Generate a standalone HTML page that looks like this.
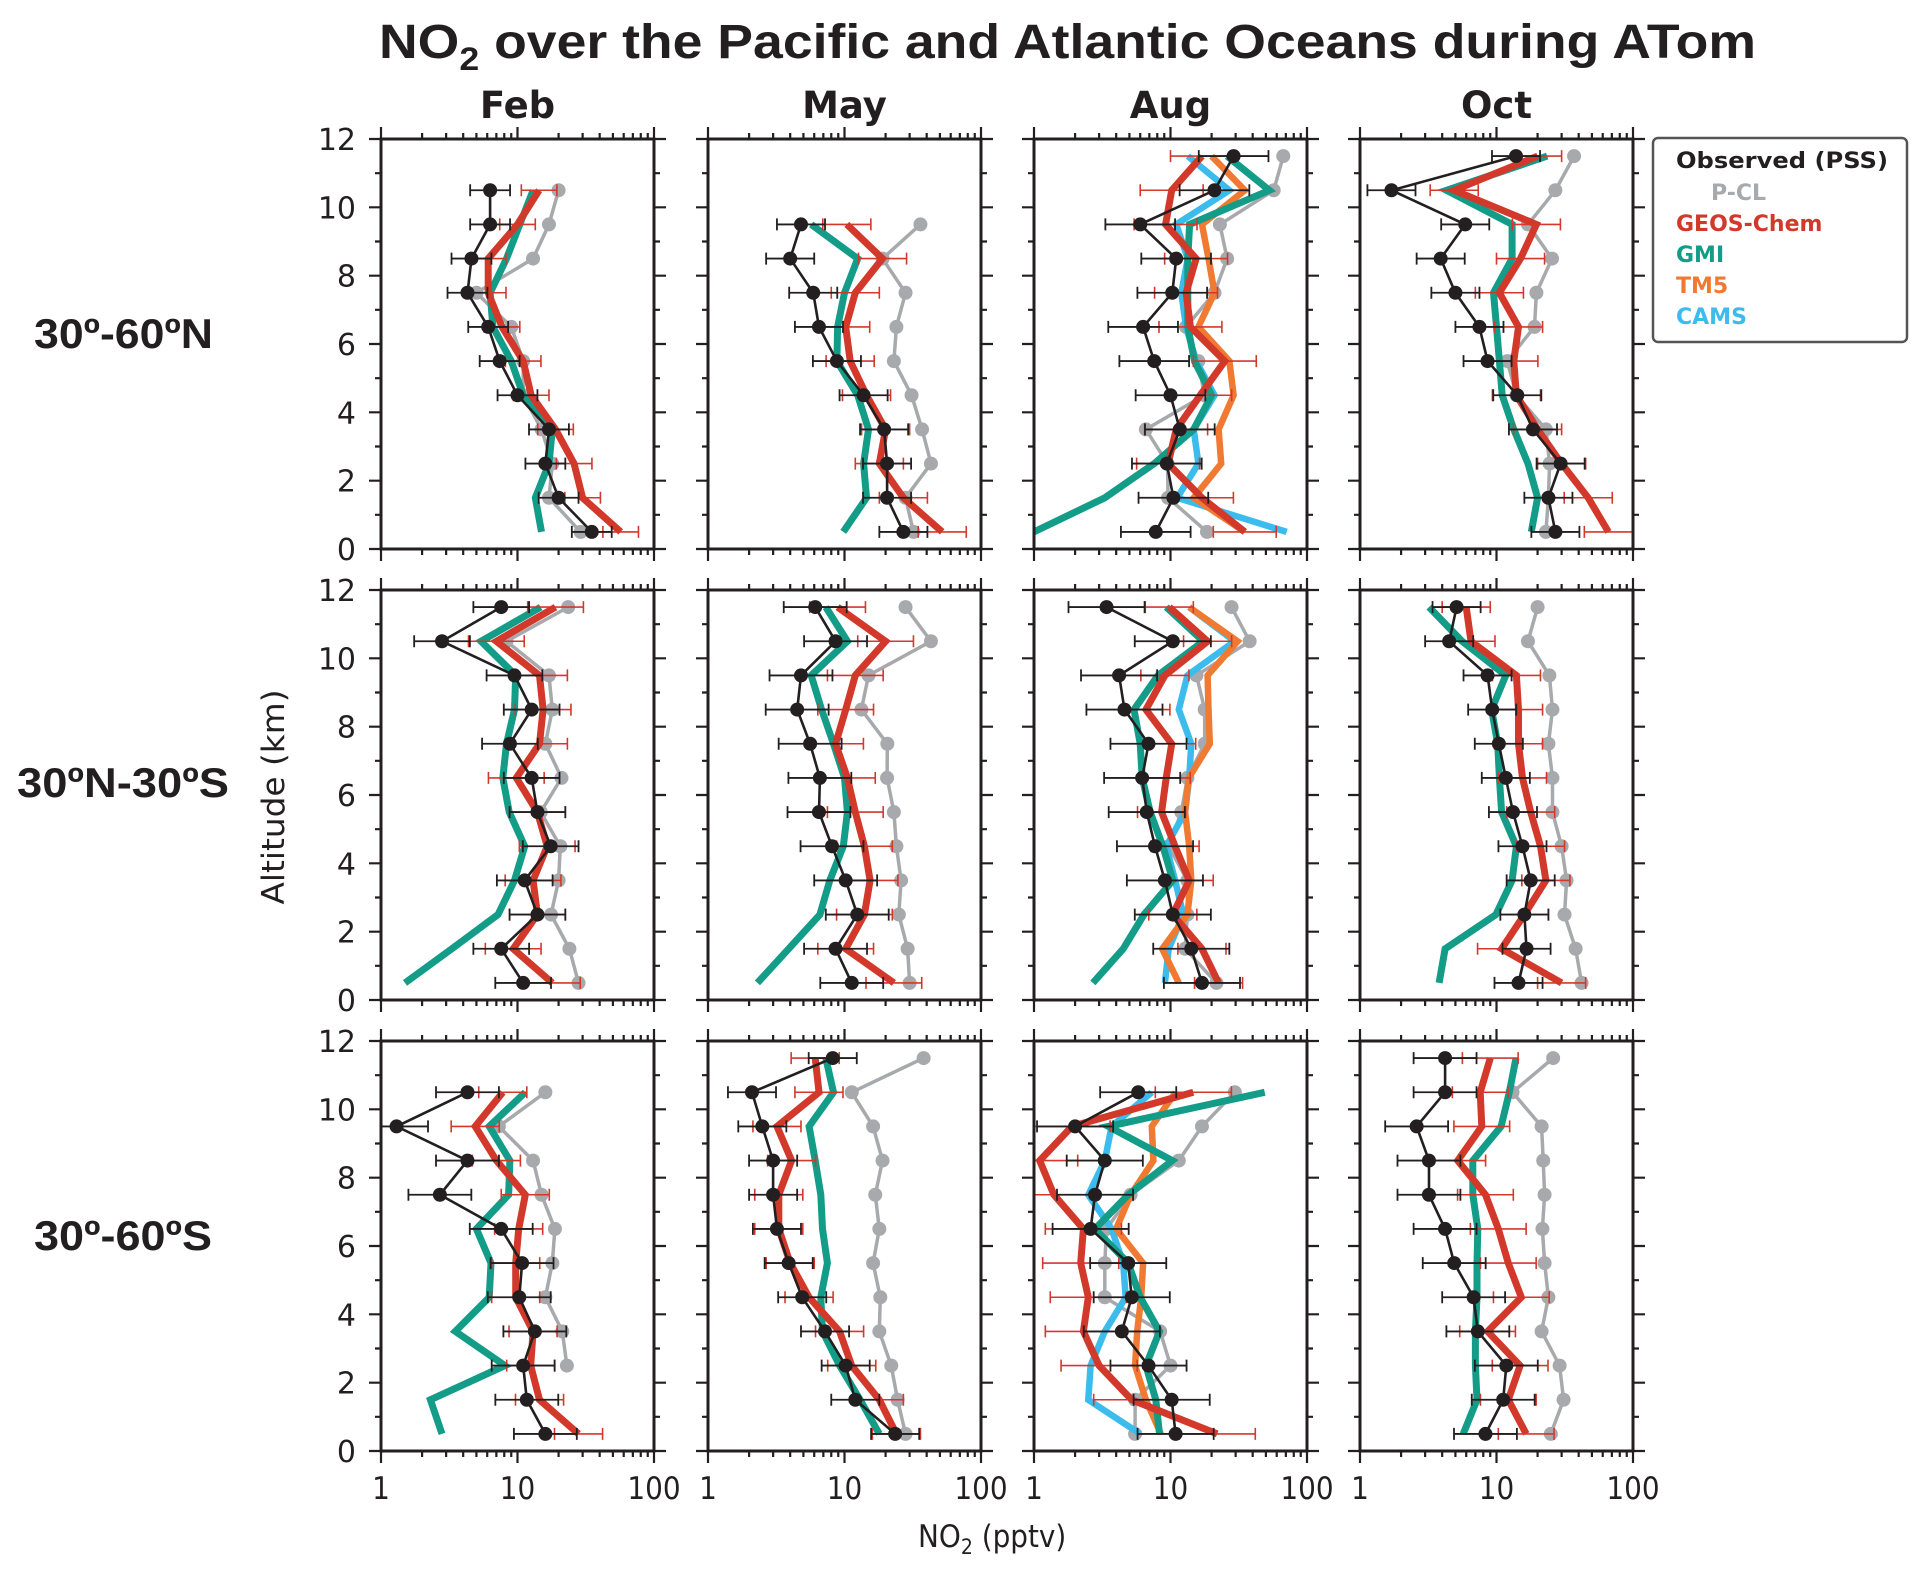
<!DOCTYPE html>
<html><head><meta charset="utf-8"><style>
html,body{margin:0;padding:0;background:#fff;}
svg{display:block;}
text{fill:#231f20;}
.cond{font-family:"DejaVu Sans Condensed","Liberation Sans Narrow","DejaVu Sans",sans-serif;font-stretch:condensed;}
.dv{font-family:"DejaVu Sans",sans-serif;}
</style></head><body>
<svg id="chart" width="1923" height="1570" viewBox="0 0 1923 1570" xmlns="http://www.w3.org/2000/svg">
<text x="379" y="58" font-family="Liberation Sans, sans-serif" font-weight="bold" font-size="48" textLength="1377" lengthAdjust="spacingAndGlyphs">NO<tspan font-size="32" dy="12">2</tspan><tspan dy="-12"> over the Pacific and Atlantic Oceans during ATom</tspan></text>
<text x="34" y="348" font-family="Liberation Sans, sans-serif" font-weight="bold" font-size="42" textLength="179" lengthAdjust="spacingAndGlyphs">30º-60ºN</text>
<text x="17" y="797" font-family="Liberation Sans, sans-serif" font-weight="bold" font-size="42" textLength="212" lengthAdjust="spacingAndGlyphs">30ºN-30ºS</text>
<text x="34" y="1250" font-family="Liberation Sans, sans-serif" font-weight="bold" font-size="42" textLength="178" lengthAdjust="spacingAndGlyphs">30º-60ºS</text>
<text class="cond" x="0" y="0" font-size="31" text-anchor="middle" textLength="215" lengthAdjust="spacingAndGlyphs" transform="translate(284,797) rotate(-90)">Altitude (km)</text>
<text class="cond" x="918" y="1547" font-size="31">NO<tspan font-size="21" dy="7">2</tspan><tspan dy="-7"> (pptv)</tspan></text>
<g>
<rect x="1653" y="138" width="254" height="204" rx="5" fill="#fff" stroke="#555" stroke-width="2.5"/>
<g font-family="DejaVu Sans, sans-serif" font-weight="bold" font-size="22">
<text x="1676" y="168" textLength="212" lengthAdjust="spacingAndGlyphs" style="fill:#231f20">Observed (PSS)</text>
<text x="1711" y="200" style="fill:#a7a9ac">P-CL</text>
<text x="1676" y="231" style="fill:#d2392b">GEOS-Chem</text>
<text x="1676" y="262" style="fill:#139c87">GMI</text>
<text x="1676" y="293" style="fill:#f07a32">TM5</text>
<text x="1676" y="324" style="fill:#3bbcec">CAMS</text>
</g></g>
<g id="panels"></g>
</svg>
<script>
// altitude levels (km), bottom to top
const altitudes=[0.5,1.5,2.5,3.5,4.5,5.5,6.5,7.5,8.5,9.5,10.5,11.5];
const months=["Feb","May","Aug","Oct"];
const regions=["30-60N","30N-30S","30-60S"];
const xTicks=[1,10,100];
const xTickLabels=["1","10","100"];
const yTicks=[0,2,4,6,8,10,12];
const N=null;
// Row 1: 30-60N
const obs_n_feb=[35,20,16,17,10,7.4,6.1,4.3,4.6,6.3,6.3,N];
const pcl_n_feb=[29,17,18,15,11,11,9,5,13,17,20,N];
const gc_n_feb=[57,30,26,19,12.6,11,7.7,6.1,6.1,10,14.4,N];
const gmi_n_feb=[15,13.5,17,18,11,9,6.6,6.3,8.3,10.4,13,N];
const obs_n_may=[27,20.5,20.5,19.5,13.8,8.8,6.5,5.9,4.0,4.8,N,N];
const pcl_n_may=[32,28,43,37,31,23,24,28,19,36,N,N];
const gc_n_may=[52,27,18,20,14.5,11,10.2,12,19,10.4,N,N];
const gmi_n_may=[9.8,14.5,13.8,15,12.5,8.8,8.9,10,12.5,5.7,N,N];
const obs_n_aug=[7.8,10.5,9.4,11.7,10,7.6,6.3,10.3,11,6.0,21,29];
const pcl_n_aug=[18.5,9.6,9.5,6.6,17.7,16,13,21,26,23,57,67];
const gc_n_aug=[35,17,9.6,11,16.5,25,14,13,15.4,9.2,10.2,17];
const gmi_n_aug=[1,3.3,7.6,14.8,20,15,13.4,13.4,13.4,13.8,53,26];
const tm5_n_aug=[35,14.8,23.5,22.5,29,27,16,21,19,17,35,20];
const cams_n_aug=[71,11.2,16,14.8,21,15.4,13,12,13.4,11,27,13.4];
const obs_n_oct=[27,24,29.5,18.5,14.2,8.6,7.5,5.0,3.9,5.9,1.7,13.9];
const pcl_n_oct=[23,24,24.5,23,14,12,19,19.6,25.5,17,27,37];
const gc_n_oct=[66,47,30,20,14,13.4,14.5,10.5,15,19.6,4.9,20];
const gmi_n_oct=[18,20,17,13.4,11,10.5,10,9.5,13,13,4.3,23.5];
// Row 2: 30N-30S
const obs_t_feb=[11,7.6,14,11.3,17.5,14,12.7,8.8,12.7,9.5,2.8,7.6];
const pcl_t_feb=[28,24,17.6,20,20.6,14.8,21,16,18,17,8.3,23.5];
const gc_t_feb=[18,9.3,14,13,16.5,14,9.8,14.5,15.4,14.5,7,19];
const gmi_t_feb=[1.5,3.3,7.2,9.5,11.3,8.7,7.8,8.3,9.5,9.7,5.4,14.8];
const obs_t_may=[11.3,8.6,12.4,10.2,8.1,6.5,6.6,5.6,4.5,4.8,8.6,6.1];
const pcl_t_may=[30,29,25,26,24,23,20.5,20.6,13.3,15,43,28];
const gc_t_may=[23,10.2,14,15.4,14,12,10.5,8.6,10.2,12,20,8.9];
const gmi_t_may=[2.3,3.9,6.6,7.8,9.8,10.5,10,8.3,6.8,5.7,10.5,7.3];
const obs_t_aug=[17,14.2,10.4,9.1,7.7,6.7,6.2,6.9,4.6,4.2,10.4,3.4];
const pcl_t_aug=[21.7,12.8,13.3,13.3,9.7,12,13.3,17.8,17.8,15.5,38,28];
const gc_t_aug=[22.5,17,10.4,13.7,10.8,8.6,9.3,10.2,6.6,9.1,18.7,9.8];
const gmi_t_aug=[2.7,4.5,6.4,10.4,8.8,7.1,6.2,6,5.4,8.1,17.4,9.3];
const tm5_t_aug=[11.5,8.7,13.3,14.2,13.7,12.8,13.6,19.4,19,18.7,31,13.7];
const cams_t_aug=[9.1,9.7,12.4,10.8,9.3,12.8,13.7,14.2,11.5,13.3,29.5,13.7];
const obs_t_oct=[14.5,16.6,16,17.8,15.5,13.2,11.7,10.4,9.3,8.6,4.5,5.1];
const pcl_t_oct=[42,38,31.5,32.6,30,25.7,25.7,24,25.7,24.4,17,20];
const gc_t_oct=[30,10.9,16,23,21,17.8,15.5,14.5,14.5,14,6.5,6.0];
const gmi_t_oct=[3.8,4.2,9.9,13,14,10.9,10.5,10.2,9.2,11.7,5.6,3.2];
// Row 3: 30-60S
const obs_s_feb=[16,11.7,11,13.4,10.3,10.8,7.6,2.7,4.3,1.3,4.3,N];
const pcl_s_feb=[N,N,23,21.3,16,18,18.8,15,13,7.3,16,N];
const gc_s_feb=[28,14.5,12.5,13,9.7,9.7,10.2,11.4,7,4.9,7.8,N];
const gmi_s_feb=[2.8,2.3,8.1,3.5,6.2,6.4,5,8.6,8.8,6.2,11.4,N];
const obs_s_may=[23.5,12,10.2,7.2,4.9,3.9,3.2,3.0,3.0,2.5,2.1,8.2];
const pcl_s_may=[28,24.5,22,18,18.3,16.2,18,16.8,19,16.2,11.3,38];
const gc_s_may=[24,18,11.3,9.2,5.5,4.0,3.3,3.3,4.1,3.2,6.5,6.1];
const gmi_s_may=[18,13,9.2,6.9,6.7,7.5,6.9,6.7,6.1,5.5,8.3,7.3];
const obs_s_aug=[10.9,10.2,6.9,4.4,5.2,4.9,2.6,2.8,3.3,2.0,5.8,N];
const pcl_s_aug=[5.5,5.5,10,8.4,3.3,3.3,3.4,5.1,11.5,17,29.6,N];
const gc_s_aug=[22,5.2,3.0,2.3,2.5,2.2,2.3,1.4,1.1,1.9,14.7,N];
const gmi_s_aug=[8.3,7.8,6.6,8.3,6.0,4.9,2.8,4.9,10.3,3.5,49,N];
const tm5_s_aug=[8.5,6.6,5.5,5.7,6.1,6.3,4.0,5.1,7.5,7.3,10.9,N];
const cams_s_aug=[6.0,2.5,2.6,3.3,4.7,4.5,3.7,2.5,3.3,3.7,7.3,N];
const obs_s_oct=[8.3,11.2,11.8,7.3,6.8,4.9,4.2,3.2,3.2,2.6,4.2,4.2];
const pcl_s_oct=[25,31,29,21.4,24,22.5,21.7,22.5,22,21.4,13.1,26];
const gc_s_oct=[16.5,12.2,14.9,8.6,15.2,12.2,10.3,8.3,5.2,7.8,7.6,9.0];
const gmi_s_oct=[5.7,7.2,7.0,7.0,7.2,7.2,7.3,6.7,6.7,10.8,12.4,13.9];
// error-bar multiplicative half-widths per panel (row-major)
const obsErrFactor=[1.4,1.5,1.8,1.5, 1.6,1.7,1.9,1.5, 1.7,1.5,1.9,1.7];
const gcErrFactor=[1.35,1.5,1.7,1.5, 1.6,1.6,1.5,1.5, 1.5,1.5,1.9,1.6];

const panelData=[
 [{obs:obs_n_feb,pcl:pcl_n_feb,gc:gc_n_feb,gmi:gmi_n_feb},{obs:obs_n_may,pcl:pcl_n_may,gc:gc_n_may,gmi:gmi_n_may},{obs:obs_n_aug,pcl:pcl_n_aug,gc:gc_n_aug,gmi:gmi_n_aug,tm5:tm5_n_aug,cams:cams_n_aug},{obs:obs_n_oct,pcl:pcl_n_oct,gc:gc_n_oct,gmi:gmi_n_oct}],
 [{obs:obs_t_feb,pcl:pcl_t_feb,gc:gc_t_feb,gmi:gmi_t_feb},{obs:obs_t_may,pcl:pcl_t_may,gc:gc_t_may,gmi:gmi_t_may},{obs:obs_t_aug,pcl:pcl_t_aug,gc:gc_t_aug,gmi:gmi_t_aug,tm5:tm5_t_aug,cams:cams_t_aug},{obs:obs_t_oct,pcl:pcl_t_oct,gc:gc_t_oct,gmi:gmi_t_oct}],
 [{obs:obs_s_feb,pcl:pcl_s_feb,gc:gc_s_feb,gmi:gmi_s_feb},{obs:obs_s_may,pcl:pcl_s_may,gc:gc_s_may,gmi:gmi_s_may},{obs:obs_s_aug,pcl:pcl_s_aug,gc:gc_s_aug,gmi:gmi_s_aug,tm5:tm5_s_aug,cams:cams_s_aug},{obs:obs_s_oct,pcl:pcl_s_oct,gc:gc_s_oct,gmi:gmi_s_oct}]
];

const NS="http://www.w3.org/2000/svg";
const root=document.getElementById('panels');
const colLeft=[381,708,1034,1360], PW=273, rowTop=[139,590,1041], PH=410;
const INK="#231f20";
function mk(tag,attrs,parent){const e=document.createElementNS(NS,tag);for(const k in attrs)e.setAttribute(k,attrs[k]);(parent||root).appendChild(e);return e;}

for(let r=0;r<3;r++){for(let c=0;c<4;c++){
 const L=colLeft[c],T=rowTop[r],B=T+PH,R=L+PW;
 const xs=v=>L+Math.log10(v)/2*PW;
 const ys=a=>B-a/12*PH;
 const g=mk('g',{});
 
 
 const d=panelData[r][c];
 const idx=r*4+c;
 function line(arr,color,w,name){
  let pts=[];altitudes.forEach((a,i)=>{if(arr[i]!=null)pts.push(xs(arr[i]).toFixed(1)+','+ys(a).toFixed(1));});
  const p=mk('polyline',{points:pts.join(' '),fill:'none',stroke:color,'stroke-width':w,'stroke-linejoin':'miter'},g);
  
  
 }
 function errbars(arr,f,color,w,name){
  altitudes.forEach((a,i)=>{if(arr[i]==null)return;const y=ys(a),x1=Math.max(L,xs(arr[i]/f)),x2=xs(arr[i]*f);
   const e=mk('path',{d:`M${x1},${y}H${x2}M${x1},${y-6}V${y+6}M${x2},${y-6}V${y+6}`,stroke:color,'stroke-width':w,fill:'none'},g);
   
   
  });
 }
 line(d.pcl,'#a7a9ac',3.5,'pcl-line');
 altitudes.forEach((a,i)=>{if(d.pcl[i]==null)return;const m=mk('circle',{cx:xs(d.pcl[i]),cy:ys(a),r:7,fill:'#a7a9ac'},g);
  
  });
 if(d.cams)line(d.cams,'#3bbcec',6.5,'cams-line');
 if(d.tm5)line(d.tm5,'#f07a32',6.5,'tm5-line');
 line(d.gmi,'#139c87',7,'gmi-line');
 line(d.gc,'#d2392b',7,'geos-chem-line');
 errbars(d.gc,gcErrFactor[idx],'#d2392b',1.6,'geos-chem-error-bar');
 errbars(d.obs,obsErrFactor[idx],INK,1.8,'observed-error-bar');
 line(d.obs,INK,2.6,'observed-line');
 altitudes.forEach((a,i)=>{if(d.obs[i]==null)return;const m=mk('circle',{cx:xs(d.obs[i]),cy:ys(a),r:7,fill:INK},g);
  
  });
 const fr=mk('rect',{x:L,y:T,width:PW,height:PH,fill:'none',stroke:INK,'stroke-width':3},g);
 
 
 let tp='';
 yTicks.forEach(t=>{const y=ys(t);tp+=`M${L-12},${y}H${L}M${R},${y}H${R+12}`;});
 for(let t=1;t<12;t+=2){const y=ys(t);tp+=`M${L-6},${y}H${L}M${R},${y}H${R+6}`;}
 xTicks.forEach(t=>{const x=xs(t);tp+=`M${x},${T-12}V${T}M${x},${B}V${B+12}`;});
 for(let dec=1;dec<100;dec*=10)for(let k=2;k<10;k++){const x=xs(dec*k);tp+=`M${x},${T-6}V${T}M${x},${B}V${B+6}`;}
 const tk=mk('path',{d:tp,stroke:INK,'stroke-width':2.2,fill:'none'},g);
 
 
 if(c===0){yTicks.forEach(t=>{const tx=mk('text',{x:356,y:ys(t)+11,'font-size':30,'text-anchor':'end',class:'dv'},g);tx.textContent=String(t);
  
  });}
 if(r===2){xTicks.forEach((t,i)=>{const tx=mk('text',{x:xs(t),y:1499,'font-size':31,'text-anchor':'middle',class:'cond'},g);tx.textContent=xTickLabels[i];
  
  });}
 if(r===0){const tx=mk('text',{x:(L+R)/2,y:118,'font-size':37,'font-weight':'bold','text-anchor':'middle','font-family':'DejaVu Sans, sans-serif'},g);tx.textContent=months[c];
  
  }
}}
</script>
</body></html>
